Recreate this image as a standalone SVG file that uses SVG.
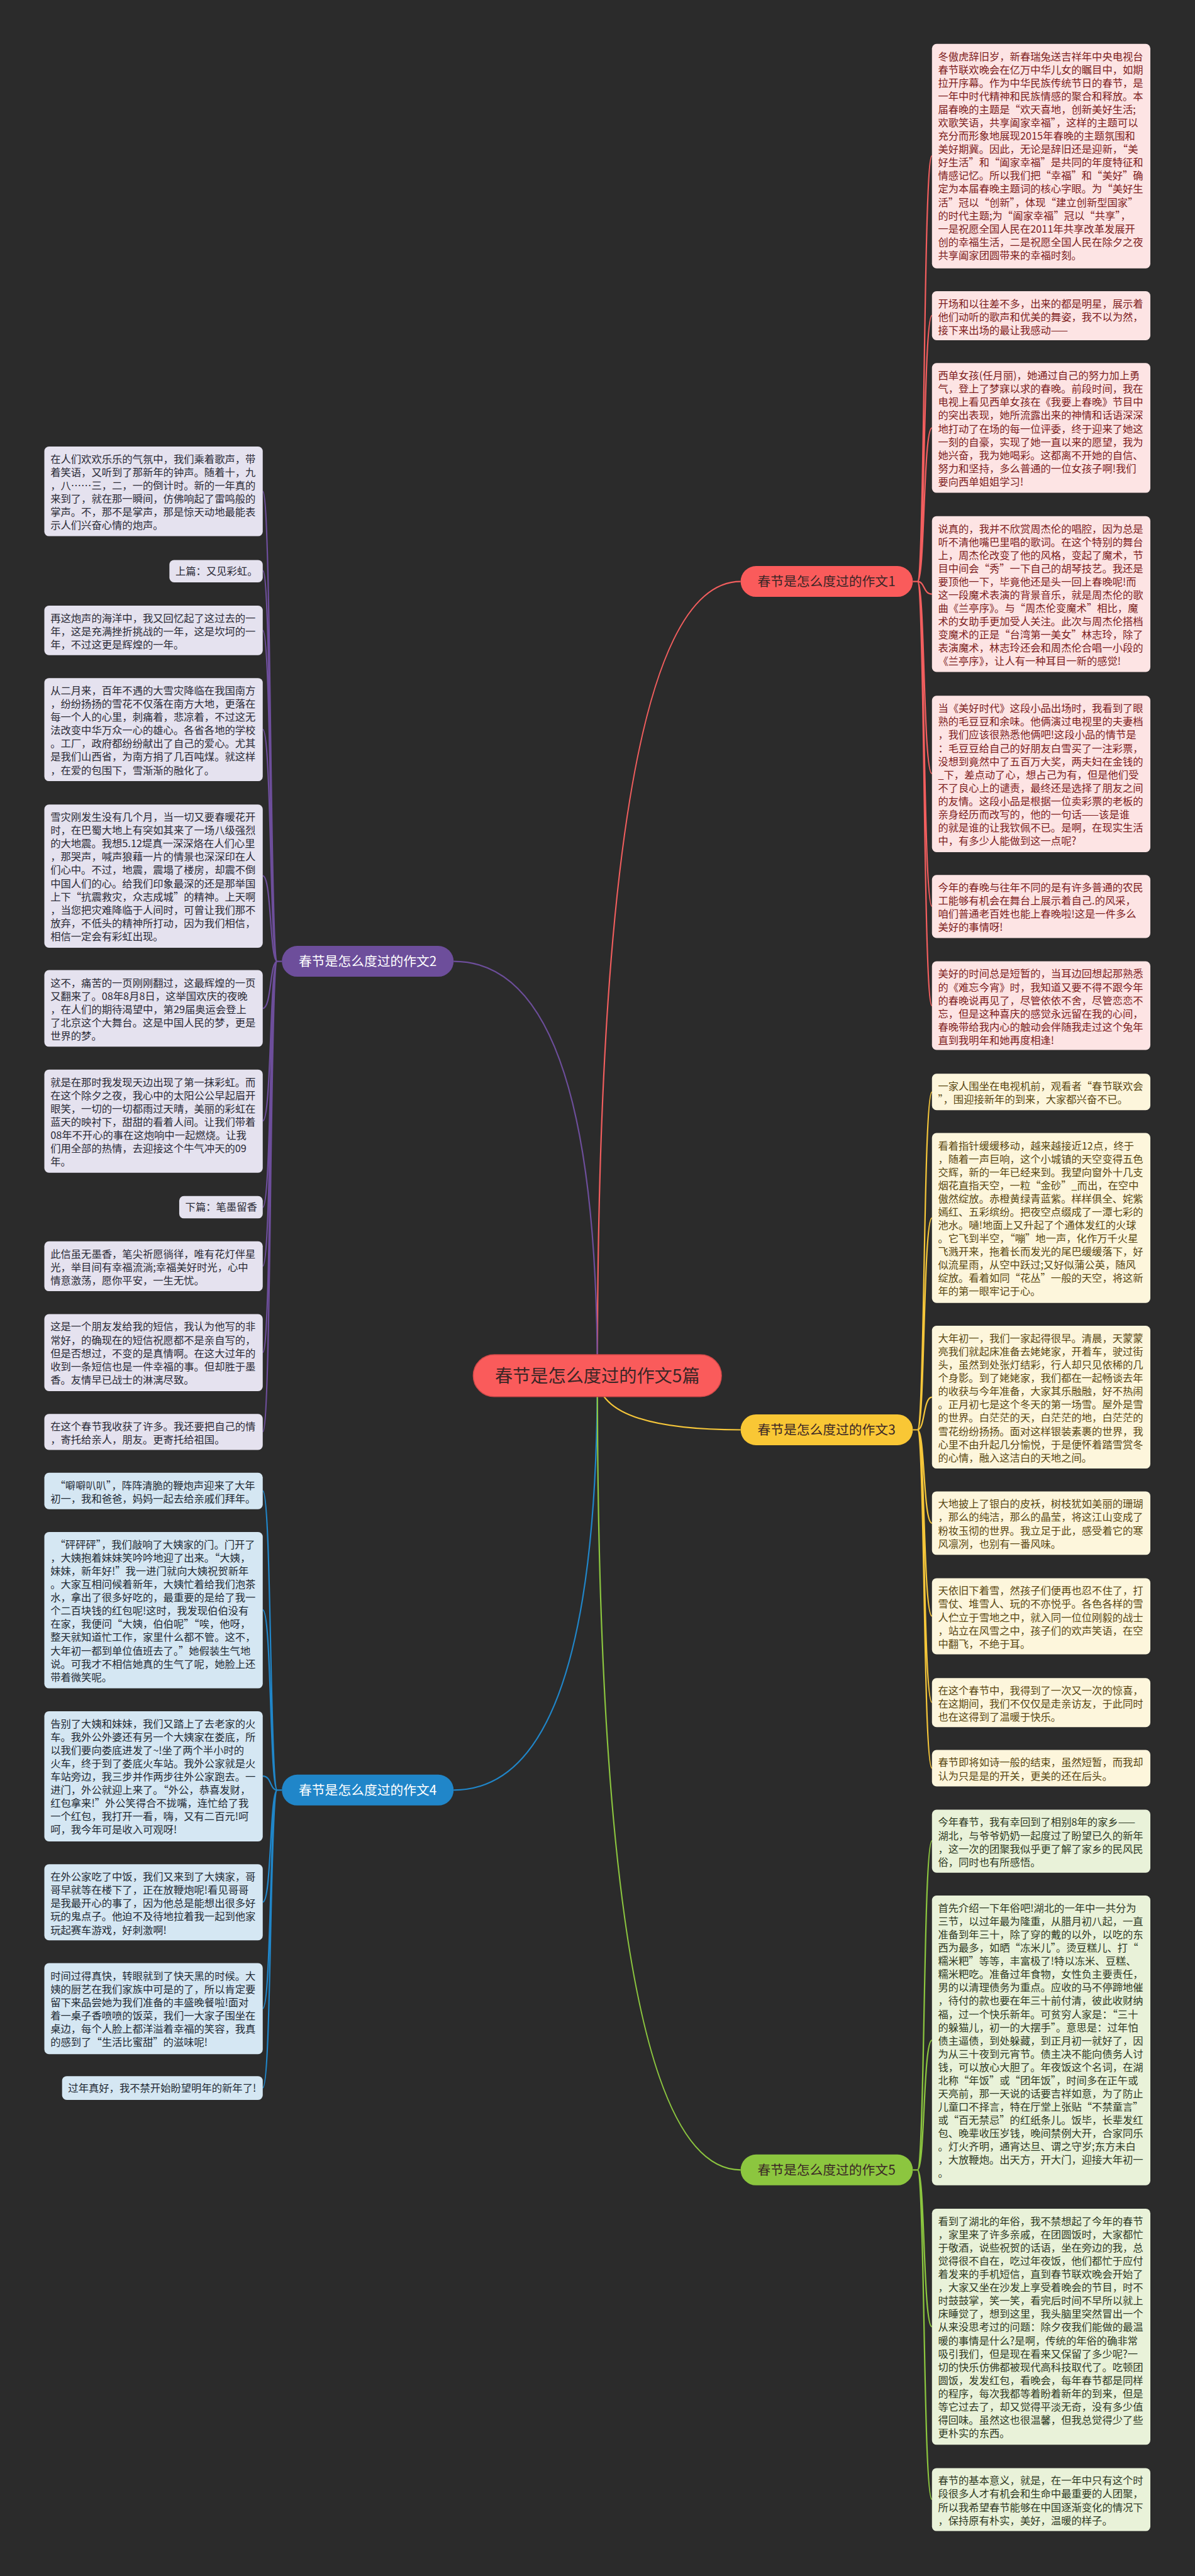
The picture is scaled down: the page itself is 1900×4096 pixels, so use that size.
<svg xmlns="http://www.w3.org/2000/svg" width="1900" height="4096" viewBox="0 0 1900 4096">
<style>
.t{font-family:"Noto Sans CJK SC","Noto Sans",sans-serif;font-size:22px}
.bt{font-family:"Noto Sans CJK SC","Noto Sans",sans-serif;font-size:28px;text-anchor:middle}
.ct{font-family:"Noto Sans CJK SC","Noto Sans",sans-serif;font-size:38px;text-anchor:middle;fill:#3a2626}
.red rect{fill:#fde4e4}.red text{fill:#7d1d1d}
.yel rect{fill:#fdf6dc}.yel text{fill:#5a4812}
.grn rect{fill:#e9f2d9}.grn text{fill:#2f3a24}
.pur rect{fill:#e5e2ef}.pur text{fill:#2a2a36}
.blu rect{fill:#d5e7f3}.blu text{fill:#1f2a34}
.c{fill:none;stroke-width:3}
.cr{stroke:#f25e5e}.cp{stroke:#6d4e9b}.cy{stroke:#f5c63a}.cb{stroke:#2086c9}.cg{stroke:#8cc63f}
</style>
<rect width="1900" height="4096" fill="#2b2b2b"/>
<g transform="scale(0.742)">
<g id="connectors">
<path class="c cr" d="M1280 2948 Q1280 1246 1587 1246"/>
<path class="c cp" d="M1280 2948 Q1280 2060 972 2060"/>
<path class="c cy" d="M1280 2948 Q1280 3064 1587 3064"/>
<path class="c cb" d="M1280 2948 Q1280 3836 972 3836"/>
<path class="c cg" d="M1280 2948 Q1280 4650 1587 4650"/>
<path class="c cr" d="M1956 1246 L1966 1246 C1982 1246 1978 334 1997 334 M1966 1246 C1982 1246 1978 676 1997 676 M1966 1246 C1982 1246 1978 917 1997 917 M1966 1246 C1982 1246 1978 1273 1997 1273 M1966 1246 C1982 1246 1978 1658 1997 1658 M1966 1246 C1982 1246 1978 1942 1997 1942 M1966 1246 C1982 1246 1978 2155 1997 2155"/>
<path class="c cy" d="M1956 3064 L1966 3064 C1982 3064 1978 2340 1997 2340 M1966 3064 C1982 3064 1978 2610 1997 2610 M1966 3064 C1982 3064 1978 2994 1997 2994 M1966 3064 C1982 3064 1978 3264 1997 3264 M1966 3064 C1982 3064 1978 3463 1997 3463 M1966 3064 C1982 3064 1978 3648 1997 3648 M1966 3064 C1982 3064 1978 3789 1997 3789"/>
<path class="c cg" d="M1956 4650 L1966 4650 C1982 4650 1978 3945 1997 3945 M1966 4650 C1982 4650 1978 4372 1997 4372 M1966 4650 C1982 4650 1978 4986 1997 4986 M1966 4650 C1982 4650 1978 5356 1997 5356"/>
<path class="c cp" d="M604 2060 L594 2060 C578 2060 582 1053 563 1053 M594 2060 C578 2060 582 1223 563 1223 M594 2060 C578 2060 582 1351 563 1351 M594 2060 C578 2060 582 1563 563 1563 M594 2060 C578 2060 582 1877 563 1877 M594 2060 C578 2060 582 2161 563 2161 M594 2060 C578 2060 582 2402 563 2402 M594 2060 C578 2060 582 2587 563 2587 M594 2060 C578 2060 582 2713 563 2713 M594 2060 C578 2060 582 2898 563 2898 M594 2060 C578 2060 582 3068 563 3068"/>
<path class="c cb" d="M604 3836 L594 3836 C578 3836 582 3195 563 3195 M594 3836 C578 3836 582 3450 563 3450 M594 3836 C578 3836 582 3806 563 3806 M594 3836 C578 3836 582 4076 563 4076 M594 3836 C578 3836 582 4304 563 4304 M594 3836 C578 3836 582 4474 563 4474"/>
</g>

<g id="center"><rect x="1014" y="2903" width="532" height="90" rx="45" fill="#fa5b5b" stroke="#d04848" stroke-width="2"/><text class="ct" x="1280" y="2962">春节是怎么度过的作文5篇</text></g>
<g id="b1"><rect x="1587" y="1213" width="369" height="66" rx="33" fill="#fa5b5b"/><text class="bt" x="1771" y="1256" fill="#3a2626">春节是怎么度过的作文1</text></g>
<g id="b2"><rect x="604" y="2027" width="368" height="66" rx="33" fill="#6d4e9b"/><text class="bt" x="788" y="2070" fill="#ffffff">春节是怎么度过的作文2</text></g>
<g id="b3"><rect x="1587" y="3031" width="369" height="66" rx="33" fill="#f9c735"/><text class="bt" x="1771" y="3074" fill="#3a2626">春节是怎么度过的作文3</text></g>
<g id="b4"><rect x="604" y="3803" width="368" height="66" rx="33" fill="#2086c9"/><text class="bt" x="788" y="3846" fill="#ffffff">春节是怎么度过的作文4</text></g>
<g id="b5"><rect x="1587" y="4617" width="369" height="66" rx="33" fill="#8cc63f"/><text class="bt" x="1771" y="4660" fill="#3a2626">春节是怎么度过的作文5</text></g>

<g id="r1" class="red"><rect x="1997" y="94" width="468" height="481" rx="10"/><text class="t" x="2010" y="129"><tspan x="2010">冬傲虎辞旧岁，新春瑞兔送吉祥年中央电视台</tspan><tspan x="2010" dy="28.4">春节联欢晚会在亿万中华儿女的瞩目中，如期</tspan><tspan x="2010" dy="28.4">拉开序幕。作为中华民族传统节日的春节，是</tspan><tspan x="2010" dy="28.4">一年中时代精神和民族情感的聚合和释放。本</tspan><tspan x="2010" dy="28.4">届春晚的主题是“欢天喜地，创新美好生活;</tspan><tspan x="2010" dy="28.4">欢歌笑语，共享阖家幸福”，这样的主题可以</tspan><tspan x="2010" dy="28.4">充分而形象地展现2015年春晚的主题氛围和</tspan><tspan x="2010" dy="28.4">美好期冀。因此，无论是辞旧还是迎新，“美</tspan><tspan x="2010" dy="28.4">好生活”和“阖家幸福”是共同的年度特征和</tspan><tspan x="2010" dy="28.4">情感记忆。所以我们把“幸福”和“美好”确</tspan><tspan x="2010" dy="28.4">定为本届春晚主题词的核心字眼。为“美好生</tspan><tspan x="2010" dy="28.4">活”冠以“创新”，体现“建立创新型国家”</tspan><tspan x="2010" dy="28.4">的时代主题;为“阖家幸福”冠以“共享”，</tspan><tspan x="2010" dy="28.4">一是祝愿全国人民在2011年共享改革发展开</tspan><tspan x="2010" dy="28.4">创的幸福生活，二是祝愿全国人民在除夕之夜</tspan><tspan x="2010" dy="28.4">共享阖家团圆带来的幸福时刻。</tspan></text></g>
<g id="r2" class="red"><rect x="1997" y="624" width="468" height="105" rx="10"/><text class="t" x="2010" y="659"><tspan x="2010">开场和以往差不多，出来的都是明星，展示着</tspan><tspan x="2010" dy="28.4">他们动听的歌声和优美的舞姿，我不以为然，</tspan><tspan x="2010" dy="28.4">接下来出场的最让我感动——</tspan></text></g>
<g id="r3" class="red"><rect x="1997" y="778" width="468" height="278" rx="10"/><text class="t" x="2010" y="813"><tspan x="2010">西单女孩(任月丽)，她通过自己的努力加上勇</tspan><tspan x="2010" dy="28.4">气，登上了梦寐以求的春晚。前段时间，我在</tspan><tspan x="2010" dy="28.4">电视上看见西单女孩在《我要上春晚》节目中</tspan><tspan x="2010" dy="28.4">的突出表现，她所流露出来的神情和话语深深</tspan><tspan x="2010" dy="28.4">地打动了在场的每一位评委，终于迎来了她这</tspan><tspan x="2010" dy="28.4">一刻的自豪，实现了她一直以来的愿望，我为</tspan><tspan x="2010" dy="28.4">她兴奋，我为她喝彩。这都离不开她的自信、</tspan><tspan x="2010" dy="28.4">努力和坚持，多么普通的一位女孩子啊!我们</tspan><tspan x="2010" dy="28.4">要向西单姐姐学习!</tspan></text></g>
<g id="r4" class="red"><rect x="1997" y="1106" width="468" height="334" rx="10"/><text class="t" x="2010" y="1141"><tspan x="2010">说真的，我并不欣赏周杰伦的唱腔，因为总是</tspan><tspan x="2010" dy="28.4">听不清他嘴巴里唱的歌词。在这个特别的舞台</tspan><tspan x="2010" dy="28.4">上，周杰伦改变了他的风格，变起了魔术，节</tspan><tspan x="2010" dy="28.4">目中间会“秀”一下自己的胡琴技艺。我还是</tspan><tspan x="2010" dy="28.4">要顶他一下，毕竟他还是头一回上春晚呢!而</tspan><tspan x="2010" dy="28.4">这一段魔术表演的背景音乐，就是周杰伦的歌</tspan><tspan x="2010" dy="28.4">曲《兰亭序》。与“周杰伦变魔术”相比，魔</tspan><tspan x="2010" dy="28.4">术的女助手更加受人关注。此次与周杰伦搭档</tspan><tspan x="2010" dy="28.4">变魔术的正是“台湾第一美女”林志玲，除了</tspan><tspan x="2010" dy="28.4">表演魔术，林志玲还会和周杰伦合唱一小段的</tspan><tspan x="2010" dy="28.4">《兰亭序》，让人有一种耳目一新的感觉!</tspan></text></g>
<g id="r5" class="red"><rect x="1997" y="1491" width="468" height="335" rx="10"/><text class="t" x="2010" y="1526"><tspan x="2010">当《美好时代》这段小品出场时，我看到了眼</tspan><tspan x="2010" dy="28.4">熟的毛豆豆和余味。他俩演过电视里的夫妻档</tspan><tspan x="2010" dy="28.4">，我们应该很熟悉他俩吧!这段小品的情节是</tspan><tspan x="2010" dy="28.4">：毛豆豆给自己的好朋友白雪买了一注彩票，</tspan><tspan x="2010" dy="28.4">没想到竟然中了五百万大奖，两夫妇在金钱的</tspan><tspan x="2010" dy="28.4">_下，差点动了心，想占己为有，但是他们受</tspan><tspan x="2010" dy="28.4">不了良心上的谴责，最终还是选择了朋友之间</tspan><tspan x="2010" dy="28.4">的友情。这段小品是根据一位卖彩票的老板的</tspan><tspan x="2010" dy="28.4">亲身经历而改写的，他的一句话——该是谁</tspan><tspan x="2010" dy="28.4">的就是谁的让我钦佩不已。是啊，在现实生活</tspan><tspan x="2010" dy="28.4">中，有多少人能做到这一点呢?</tspan></text></g>
<g id="r6" class="red"><rect x="1997" y="1875" width="468" height="135" rx="10"/><text class="t" x="2010" y="1910"><tspan x="2010">今年的春晚与往年不同的是有许多普通的农民</tspan><tspan x="2010" dy="28.4">工能够有机会在舞台上展示着自己.的风采，</tspan><tspan x="2010" dy="28.4">咱们普通老百姓也能上春晚啦!这是一件多么</tspan><tspan x="2010" dy="28.4">美好的事情呀!</tspan></text></g>
<g id="r7" class="red"><rect x="1997" y="2060" width="468" height="190" rx="10"/><text class="t" x="2010" y="2095"><tspan x="2010">美好的时间总是短暂的，当耳边回想起那熟悉</tspan><tspan x="2010" dy="28.4">的《难忘今宵》时，我知道又要不得不跟今年</tspan><tspan x="2010" dy="28.4">的春晚说再见了，尽管依依不舍，尽管恋恋不</tspan><tspan x="2010" dy="28.4">忘，但是这种喜庆的感觉永远留在我的心间，</tspan><tspan x="2010" dy="28.4">春晚带给我内心的触动会伴随我走过这个兔年</tspan><tspan x="2010" dy="28.4">直到我明年和她再度相逢!</tspan></text></g>

<g id="y1" class="yel"><rect x="1997" y="2301" width="468" height="78" rx="10"/><text class="t" x="2010" y="2336"><tspan x="2010">一家人围坐在电视机前，观看者“春节联欢会</tspan><tspan x="2010" dy="28.4">”，围迎接新年的到来，大家都兴奋不已。</tspan></text></g>
<g id="y2" class="yel"><rect x="1997" y="2428" width="468" height="364" rx="10"/><text class="t" x="2010" y="2463"><tspan x="2010">看着指针缓缓移动，越来越接近12点，终于</tspan><tspan x="2010" dy="28.4">，随着一声巨响，这个小城镇的天空变得五色</tspan><tspan x="2010" dy="28.4">交辉，新的一年已经来到。我望向窗外十几支</tspan><tspan x="2010" dy="28.4">烟花直指天空，一粒“金砂”_而出，在空中</tspan><tspan x="2010" dy="28.4">傲然绽放。赤橙黄绿青蓝紫。样样俱全、姹紫</tspan><tspan x="2010" dy="28.4">嫣红、五彩缤纷。把夜空点缀成了一潭七彩的</tspan><tspan x="2010" dy="28.4">池水。嗵!地面上又升起了个通体发红的火球</tspan><tspan x="2010" dy="28.4">。它飞到半空，“嘣”地一声，化作万千火星</tspan><tspan x="2010" dy="28.4">飞溅开来，拖着长而发光的尾巴缓缓落下，好</tspan><tspan x="2010" dy="28.4">似流星雨，从空中跃过;又好似蒲公英，随风</tspan><tspan x="2010" dy="28.4">绽放。看着如同“花丛”一般的天空，将这新</tspan><tspan x="2010" dy="28.4">年的第一眼牢记于心。</tspan></text></g>
<g id="y3" class="yel"><rect x="1997" y="2841" width="468" height="306" rx="10"/><text class="t" x="2010" y="2876"><tspan x="2010">大年初一，我们一家起得很早。清晨，天蒙蒙</tspan><tspan x="2010" dy="28.4">亮我们就起床准备去姥姥家，开着车，驶过街</tspan><tspan x="2010" dy="28.4">头，虽然到处张灯结彩，行人却只见依稀的几</tspan><tspan x="2010" dy="28.4">个身影。到了姥姥家，我们都在一起畅谈去年</tspan><tspan x="2010" dy="28.4">的收获与今年准备，大家其乐融融，好不热闹</tspan><tspan x="2010" dy="28.4">。正月初七是这个冬天的第一场雪。屋外是雪</tspan><tspan x="2010" dy="28.4">的世界。白茫茫的天，白茫茫的地，白茫茫的</tspan><tspan x="2010" dy="28.4">雪花纷纷扬扬。面对这样银装素裹的世界，我</tspan><tspan x="2010" dy="28.4">心里不由升起几分愉悦，于是便怀着踏雪赏冬</tspan><tspan x="2010" dy="28.4">的心情，融入这洁白的天地之间。</tspan></text></g>
<g id="y4" class="yel"><rect x="1997" y="3196" width="468" height="136" rx="10"/><text class="t" x="2010" y="3231"><tspan x="2010">大地披上了银白的皮袄，树枝犹如美丽的珊瑚</tspan><tspan x="2010" dy="28.4">，那么的纯洁，那么的晶莹，将这江山变成了</tspan><tspan x="2010" dy="28.4">粉妆玉彻的世界。我立足于此，感受着它的寒</tspan><tspan x="2010" dy="28.4">风凛冽，也别有一番风味。</tspan></text></g>
<g id="y5" class="yel"><rect x="1997" y="3382" width="468" height="163" rx="10"/><text class="t" x="2010" y="3417"><tspan x="2010">天依旧下着雪，然孩子们便再也忍不住了，打</tspan><tspan x="2010" dy="28.4">雪仗、堆雪人、玩的不亦悦乎。各色各样的雪</tspan><tspan x="2010" dy="28.4">人伫立于雪地之中，就入同一位位刚毅的战士</tspan><tspan x="2010" dy="28.4">，站立在风雪之中，孩子们的欢声笑语，在空</tspan><tspan x="2010" dy="28.4">中翻飞，不绝于耳。</tspan></text></g>
<g id="y6" class="yel"><rect x="1997" y="3596" width="468" height="105" rx="10"/><text class="t" x="2010" y="3631"><tspan x="2010">在这个春节中，我得到了一次又一次的惊喜，</tspan><tspan x="2010" dy="28.4">在这期间，我们不仅仅是走亲访友，于此同时</tspan><tspan x="2010" dy="28.4">也在这得到了温暖于快乐。</tspan></text></g>
<g id="y7" class="yel"><rect x="1997" y="3750" width="468" height="78" rx="10"/><text class="t" x="2010" y="3785"><tspan x="2010">春节即将如诗一般的结束，虽然短暂，而我却</tspan><tspan x="2010" dy="28.4">认为只是是的开关，更美的还在后头。</tspan></text></g>

<g id="g1" class="grn"><rect x="1997" y="3878" width="468" height="135" rx="10"/><text class="t" x="2010" y="3913"><tspan x="2010">今年春节，我有幸回到了相别8年的家乡——</tspan><tspan x="2010" dy="28.4">湖北，与爷爷奶奶一起度过了盼望已久的新年</tspan><tspan x="2010" dy="28.4">，这一次的团聚我似乎更了解了家乡的民风民</tspan><tspan x="2010" dy="28.4">俗，同时也有所感悟。</tspan></text></g>
<g id="g2" class="grn"><rect x="1997" y="4062" width="468" height="621" rx="10"/><text class="t" x="2010" y="4097"><tspan x="2010">首先介绍一下年俗吧!湖北的一年中一共分为</tspan><tspan x="2010" dy="28.4">三节，以过年最为隆重，从腊月初八起，一直</tspan><tspan x="2010" dy="28.4">准备到年三十，除了穿的戴的以外，以吃的东</tspan><tspan x="2010" dy="28.4">西为最多，如晒“冻米儿”。烫豆糕儿、打“</tspan><tspan x="2010" dy="28.4">糯米粑”等等，丰富极了!特以冻米、豆糕、</tspan><tspan x="2010" dy="28.4">糯米粑吃。准备过年食物，女性负主要责任，</tspan><tspan x="2010" dy="28.4">男的以清理债务为重点。应收的马不停蹄地催</tspan><tspan x="2010" dy="28.4">，待付的款也要在年三十前付清，彼此收财纳</tspan><tspan x="2010" dy="28.4">福，过一个快乐新年。可贫穷人家是：“三十</tspan><tspan x="2010" dy="28.4">的躲猫儿，初一的大摆手”。意思是：过年怕</tspan><tspan x="2010" dy="28.4">债主逼债，到处躲藏，到正月初一就好了，因</tspan><tspan x="2010" dy="28.4">为从三十夜到元宵节。债主决不能向债务人讨</tspan><tspan x="2010" dy="28.4">钱，可以放心大胆了。年夜饭这个名词，在湖</tspan><tspan x="2010" dy="28.4">北称“年饭”或“团年饭”，时间多在正午或</tspan><tspan x="2010" dy="28.4">天亮前，那一天说的话要吉祥如意，为了防止</tspan><tspan x="2010" dy="28.4">儿童口不择言，特在厅堂上张贴“不禁童言”</tspan><tspan x="2010" dy="28.4">或“百无禁忌”的红纸条儿。饭毕，长辈发红</tspan><tspan x="2010" dy="28.4">包、晚辈收压岁钱，晚间禁例大开，合家同乐</tspan><tspan x="2010" dy="28.4">。灯火齐明，通宵达旦、谓之守岁;东方未白</tspan><tspan x="2010" dy="28.4">，大放鞭炮。出天方，开大门，迎接大年初一</tspan><tspan x="2010" dy="28.4">。</tspan></text></g>
<g id="g3" class="grn"><rect x="1997" y="4733" width="468" height="506" rx="10"/><text class="t" x="2010" y="4768"><tspan x="2010">看到了湖北的年俗，我不禁想起了今年的春节</tspan><tspan x="2010" dy="28.4">，家里来了许多亲戚，在团圆饭时，大家都忙</tspan><tspan x="2010" dy="28.4">于敬酒，说些祝贺的话语，坐在旁边的我，总</tspan><tspan x="2010" dy="28.4">觉得很不自在，吃过年夜饭，他们都忙于应付</tspan><tspan x="2010" dy="28.4">着发来的手机短信，直到春节联欢晚会开始了</tspan><tspan x="2010" dy="28.4">，大家又坐在沙发上享受着晚会的节目，时不</tspan><tspan x="2010" dy="28.4">时鼓鼓掌，笑一笑，看完后时间不早所以就上</tspan><tspan x="2010" dy="28.4">床睡觉了，想到这里，我头脑里突然冒出一个</tspan><tspan x="2010" dy="28.4">从来没思考过的问题：除夕夜我们能做的最温</tspan><tspan x="2010" dy="28.4">暖的事情是什么?是啊，传统的年俗的确非常</tspan><tspan x="2010" dy="28.4">吸引我们，但是现在看来又保留了多少呢?一</tspan><tspan x="2010" dy="28.4">切的快乐仿佛都被现代高科技取代了。吃顿团</tspan><tspan x="2010" dy="28.4">圆饭，发发红包，看晚会，每年春节都是同样</tspan><tspan x="2010" dy="28.4">的程序，每次我都等着盼着新年的到来，但是</tspan><tspan x="2010" dy="28.4">等它过去了，却又觉得平淡无奇，没有多少值</tspan><tspan x="2010" dy="28.4">得回味。虽然这也很温馨，但我总觉得少了些</tspan><tspan x="2010" dy="28.4">更朴实的东西。</tspan></text></g>
<g id="g4" class="grn"><rect x="1997" y="5289" width="468" height="135" rx="10"/><text class="t" x="2010" y="5324"><tspan x="2010">春节的基本意义，就是，在一年中只有这个时</tspan><tspan x="2010" dy="28.4">段很多人才有机会和生命中最重要的人团聚，</tspan><tspan x="2010" dy="28.4">所以我希望春节能够在中国逐渐变化的情况下</tspan><tspan x="2010" dy="28.4">，保持原有朴实，美好，温暖的样子。</tspan></text></g>

<g id="p1" class="pur"><rect x="95" y="957" width="468" height="192" rx="10"/><text class="t" x="108" y="992"><tspan x="108">在人们欢欢乐乐的气氛中，我们乘着歌声，带</tspan><tspan x="108" dy="28.4">着笑语，又听到了那新年的钟声。随着十，九</tspan><tspan x="108" dy="28.4">，八……三，二，一的倒计时。新的一年真的</tspan><tspan x="108" dy="28.4">来到了，就在那一瞬间，仿佛响起了雷鸣般的</tspan><tspan x="108" dy="28.4">掌声。不，那不是掌声，那是惊天动地最能表</tspan><tspan x="108" dy="28.4">示人们兴奋心情的炮声。</tspan></text></g>
<g id="p2" class="pur"><rect x="363" y="1200" width="200" height="48" rx="10"/><text class="t" x="376" y="1232">上篇：又见彩虹。</text></g>
<g id="p3" class="pur"><rect x="95" y="1298" width="468" height="106" rx="10"/><text class="t" x="108" y="1333"><tspan x="108">再这炮声的海洋中，我又回忆起了这过去的一</tspan><tspan x="108" dy="28.4">年，这是充满挫折挑战的一年，这是坎坷的一</tspan><tspan x="108" dy="28.4">年，不过这更是辉煌的一年。</tspan></text></g>
<g id="p4" class="pur"><rect x="95" y="1453" width="468" height="221" rx="10"/><text class="t" x="108" y="1488"><tspan x="108">从二月来，百年不遇的大雪灾降临在我国南方</tspan><tspan x="108" dy="28.4">，纷纷扬扬的雪花不仅落在南方大地，更落在</tspan><tspan x="108" dy="28.4">每一个人的心里，刺痛着，悲凉着，不过这无</tspan><tspan x="108" dy="28.4">法改变中华万众一心的雄心。各省各地的学校</tspan><tspan x="108" dy="28.4">。工厂，政府都纷纷献出了自己的爱心。尤其</tspan><tspan x="108" dy="28.4">是我们山西省，为南方捐了几百吨煤。就这样</tspan><tspan x="108" dy="28.4">，在爱的包围下，雪渐渐的融化了。</tspan></text></g>
<g id="p5" class="pur"><rect x="95" y="1724" width="468" height="307" rx="10"/><text class="t" x="108" y="1759"><tspan x="108">雪灾刚发生没有几个月，当一切又要春暖花开</tspan><tspan x="108" dy="28.4">时，在巴蜀大地上有突如其来了一场八级强烈</tspan><tspan x="108" dy="28.4">的大地震。我想5.12堤真一深深烙在人们心里</tspan><tspan x="108" dy="28.4">，那哭声，喊声狼藉一片的情景也深深印在人</tspan><tspan x="108" dy="28.4">们心中。不过，地震，震塌了楼房，却震不倒</tspan><tspan x="108" dy="28.4">中国人们的心。给我们印象最深的还是那举国</tspan><tspan x="108" dy="28.4">上下“抗震救灾，众志成城”的精神。上天啊</tspan><tspan x="108" dy="28.4">，当您把灾难降临于人间时，可曾让我们那不</tspan><tspan x="108" dy="28.4">放弃，不低头的精神所打动，因为我们相信，</tspan><tspan x="108" dy="28.4">相信一定会有彩虹出现。</tspan></text></g>
<g id="p6" class="pur"><rect x="95" y="2079" width="468" height="164" rx="10"/><text class="t" x="108" y="2114"><tspan x="108">这不，痛苦的一页刚刚翻过，这最辉煌的一页</tspan><tspan x="108" dy="28.4">又翻来了。08年8月8日，这举国欢庆的夜晚</tspan><tspan x="108" dy="28.4">，在人们的期待渴望中，第29届奥运会登上</tspan><tspan x="108" dy="28.4">了北京这个大舞台。这是中国人民的梦，更是</tspan><tspan x="108" dy="28.4">世界的梦。</tspan></text></g>
<g id="p7" class="pur"><rect x="95" y="2292" width="468" height="221" rx="10"/><text class="t" x="108" y="2327"><tspan x="108">就是在那时我发现天边出现了第一抹彩虹。而</tspan><tspan x="108" dy="28.4">在这个除夕之夜，我心中的太阳公公早起眉开</tspan><tspan x="108" dy="28.4">眼笑，一切的一切都雨过天晴，美丽的彩虹在</tspan><tspan x="108" dy="28.4">蓝天的映衬下，甜甜的看着人间。让我们带着</tspan><tspan x="108" dy="28.4">08年不开心的事在这炮响中一起燃烧。让我</tspan><tspan x="108" dy="28.4">们用全部的热情，去迎接这个牛气冲天的09</tspan><tspan x="108" dy="28.4">年。</tspan></text></g>
<g id="p8" class="pur"><rect x="384" y="2563" width="179" height="48" rx="10"/><text class="t" x="397" y="2595">下篇：笔墨留香</text></g>
<g id="p9" class="pur"><rect x="95" y="2660" width="468" height="107" rx="10"/><text class="t" x="108" y="2695"><tspan x="108">此信虽无墨香，笔尖祈愿徜徉，唯有花灯伴星</tspan><tspan x="108" dy="28.4">光，举目间有幸福流淌;幸福美好时光，心中</tspan><tspan x="108" dy="28.4">情意激荡，愿你平安，一生无忧。</tspan></text></g>
<g id="p10" class="pur"><rect x="95" y="2816" width="468" height="165" rx="10"/><text class="t" x="108" y="2851"><tspan x="108">这是一个朋友发给我的短信，我认为他写的非</tspan><tspan x="108" dy="28.4">常好，的确现在的短信祝愿都不是亲自写的，</tspan><tspan x="108" dy="28.4">但是否想过，不变的是真情啊。在这大过年的</tspan><tspan x="108" dy="28.4">收到一条短信也是一件幸福的事。但却胜于墨</tspan><tspan x="108" dy="28.4">香。友情早已战士的淋漓尽致。</tspan></text></g>
<g id="p11" class="pur"><rect x="95" y="3030" width="468" height="77" rx="10"/><text class="t" x="108" y="3065"><tspan x="108">在这个春节我收获了许多。我还要把自己的情</tspan><tspan x="108" dy="28.4">，寄托给亲人，朋友。更寄托给祖国。</tspan></text></g>

<g id="q1" class="blu"><rect x="95" y="3156" width="468" height="78" rx="10"/><text class="t" x="108" y="3191"><tspan x="118">“噼噼叭叭”，阵阵清脆的鞭炮声迎来了大年</tspan><tspan x="108" dy="28.4">初一，我和爸爸，妈妈一起去给亲戚们拜年。</tspan></text></g>
<g id="q2" class="blu"><rect x="95" y="3283" width="468" height="335" rx="10"/><text class="t" x="108" y="3318"><tspan x="118">“砰砰砰”，我们敲响了大姨家的门。门开了</tspan><tspan x="108" dy="28.4">，大姨抱着妹妹笑吟吟地迎了出来。“大姨，</tspan><tspan x="108" dy="28.4">妹妹，新年好!”我一进门就向大姨祝贺新年</tspan><tspan x="108" dy="28.4">。大家互相问候着新年，大姨忙着给我们泡茶</tspan><tspan x="108" dy="28.4">水，拿出了很多好吃的，最重要的是给了我一</tspan><tspan x="108" dy="28.4">个二百块钱的红包呢!这时，我发现伯伯没有</tspan><tspan x="108" dy="28.4">在家，我便问“大姨，伯伯呢”“唉，他呀，</tspan><tspan x="108" dy="28.4">整天就知道忙工作，家里什么都不管。这不，</tspan><tspan x="108" dy="28.4">大年初一都到单位值班去了。”她假装生气地</tspan><tspan x="108" dy="28.4">说。可我才不相信她真的生气了呢，她脸上还</tspan><tspan x="108" dy="28.4">带着微笑呢。</tspan></text></g>
<g id="q3" class="blu"><rect x="95" y="3667" width="468" height="279" rx="10"/><text class="t" x="108" y="3702"><tspan x="108">告别了大姨和妹妹，我们又踏上了去老家的火</tspan><tspan x="108" dy="28.4">车。我外公外婆还有另一个大姨家在娄底，所</tspan><tspan x="108" dy="28.4">以我们要向娄底进发了~!坐了两个半小时的</tspan><tspan x="108" dy="28.4">火车，终于到了娄底火车站。我外公家就是火</tspan><tspan x="108" dy="28.4">车站旁边，我三步并作两步往外公家跑去。一</tspan><tspan x="108" dy="28.4">进门，外公就迎上来了。“外公，恭喜发财，</tspan><tspan x="108" dy="28.4">红包拿来!”外公笑得合不拢嘴，连忙给了我</tspan><tspan x="108" dy="28.4">一个红包，我打开一看，嗨，又有二百元!呵</tspan><tspan x="108" dy="28.4">呵，我今年可是收入可观呀!</tspan></text></g>
<g id="q4" class="blu"><rect x="95" y="3995" width="468" height="163" rx="10"/><text class="t" x="108" y="4030"><tspan x="108">在外公家吃了中饭，我们又来到了大姨家，哥</tspan><tspan x="108" dy="28.4">哥早就等在楼下了，正在放鞭炮呢!看见哥哥</tspan><tspan x="108" dy="28.4">是我最开心的事了，因为他总是能想出很多好</tspan><tspan x="108" dy="28.4">玩的鬼点子。他迫不及待地拉着我一起到他家</tspan><tspan x="108" dy="28.4">玩起赛车游戏，好刺激啊!</tspan></text></g>
<g id="q5" class="blu"><rect x="95" y="4207" width="468" height="195" rx="10"/><text class="t" x="108" y="4242"><tspan x="108">时间过得真快，转眼就到了快天黑的时候。大</tspan><tspan x="108" dy="28.4">姨的厨艺在我们家族中可是的了，所以肯定要</tspan><tspan x="108" dy="28.4">留下来品尝她为我们准备的丰盛晚餐啦!面对</tspan><tspan x="108" dy="28.4">着一桌子香喷喷的饭菜，我们一大家子围坐在</tspan><tspan x="108" dy="28.4">桌边，每个人脸上都洋溢着幸福的笑容，我真</tspan><tspan x="108" dy="28.4">的感到了“生活比蜜甜”的滋味呢!</tspan></text></g>
<g id="q6" class="blu"><rect x="133" y="4449" width="430" height="51" rx="10"/><text class="t" x="146" y="4483">过年真好，我不禁开始盼望明年的新年了!</text></g>
</g>
</svg>
